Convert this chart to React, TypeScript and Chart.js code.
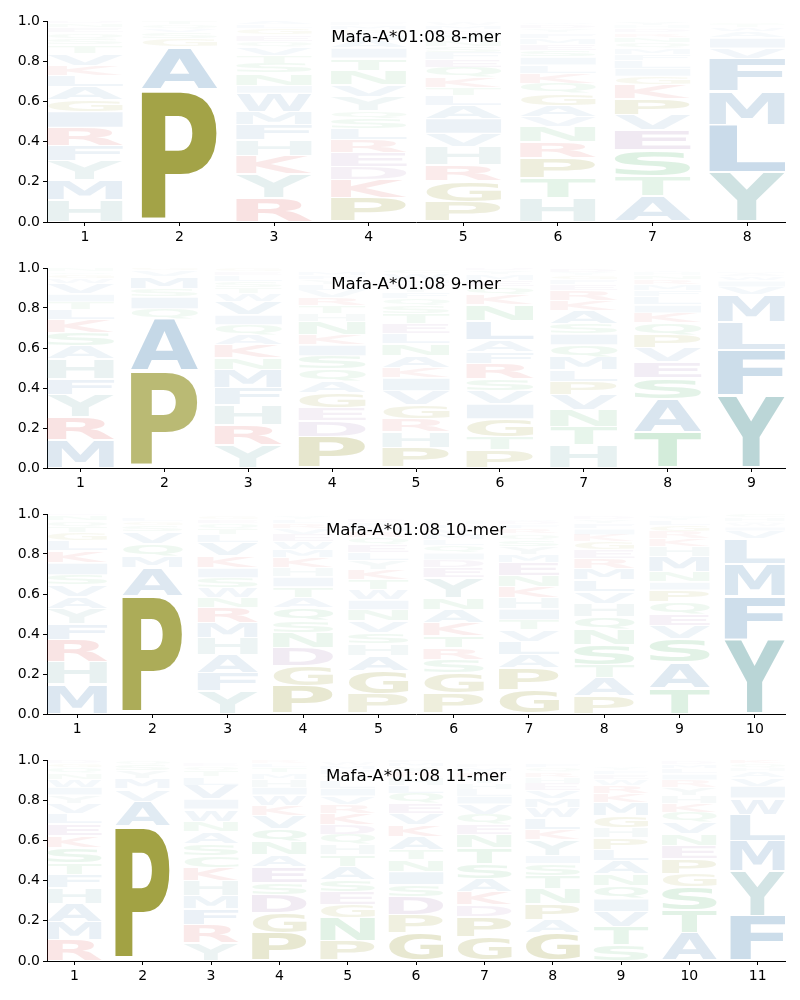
import React, { useEffect, useRef } from "react";
import { Chart, registerables } from "chart.js";

Chart.register(...registerables);

const allele = "Mafa-A*01:08";
const yTickStep = 0.2;

// Letters per position, bottom to top, with their heights (probabilities)
const mer8Letters = [
  "HMYFRIGALKVTSQEND",
  "PAGSVQT",
  "RYKHFMWINSTVQEGLA",
  "PKDERLSQYVNTIAHGMF",
  "PGRHVIALTKQEFSNYDMW",
  "HTPRNVAGQKLISEMFYDW",
  "ATSEVPKGILFMQNRDHY",
  "YLMFVIAWTS",
];
const mer8Heights = [
  [0.11, 0.1, 0.095, 0.075, 0.09, 0.08, 0.06, 0.065, 0.055, 0.05, 0.06, 0.04, 0.03, 0.03, 0.025, 0.02, 0.015],
  [0.66, 0.21, 0.04, 0.03, 0.02, 0.02, 0.02],
  [0.12, 0.12, 0.09, 0.08, 0.075, 0.065, 0.09, 0.04, 0.06, 0.05, 0.04, 0.04, 0.03, 0.03, 0.03, 0.02, 0.02],
  [0.12, 0.09, 0.065, 0.07, 0.065, 0.055, 0.05, 0.04, 0.07, 0.06, 0.07, 0.06, 0.05, 0.04, 0.03, 0.02, 0.02, 0.015],
  [0.1, 0.105, 0.08, 0.09, 0.065, 0.075, 0.065, 0.05, 0.04, 0.05, 0.05, 0.04, 0.035, 0.03, 0.03, 0.03, 0.02, 0.02, 0.015],
  [0.12, 0.1, 0.1, 0.08, 0.075, 0.05, 0.055, 0.06, 0.05, 0.05, 0.04, 0.04, 0.035, 0.03, 0.03, 0.025, 0.02, 0.02, 0.01],
  [0.13, 0.1, 0.13, 0.1, 0.075, 0.08, 0.07, 0.04, 0.04, 0.04, 0.03, 0.03, 0.03, 0.025, 0.02, 0.02, 0.015, 0.02],
  [0.25, 0.235, 0.165, 0.165, 0.05, 0.05, 0.03, 0.02, 0.015, 0.01],
];

const mer9Letters = [
  "MRYFHASKLTIVWGQN",
  "PAQISMVG",
  "YRHFMNKAQIVWTSLEG",
  "PDEGAQSIKNHTRVLYFM",
  "PHRGVIKANLETSQFYDMWC",
  "PTGIVSRFALNKQEMYD",
  "HTNVPLMQISAKREFGYD",
  "TASEVPQKILFMRNHY",
  "YFLMVIWAH",
];
const mer9Heights = [
  [0.14, 0.115, 0.11, 0.08, 0.1, 0.065, 0.065, 0.065, 0.05, 0.04, 0.04, 0.05, 0.025, 0.02, 0.015, 0.015],
  [0.485, 0.26, 0.05, 0.06, 0.04, 0.06, 0.03, 0.015],
  [0.115, 0.1, 0.1, 0.085, 0.09, 0.06, 0.065, 0.05, 0.05, 0.05, 0.065, 0.04, 0.03, 0.03, 0.03, 0.02, 0.015],
  [0.155, 0.08, 0.065, 0.075, 0.06, 0.06, 0.065, 0.055, 0.05, 0.065, 0.04, 0.04, 0.04, 0.035, 0.03, 0.025, 0.02, 0.02],
  [0.1, 0.08, 0.065, 0.07, 0.07, 0.065, 0.05, 0.06, 0.06, 0.05, 0.05, 0.05, 0.04, 0.035, 0.03, 0.025, 0.02, 0.02, 0.03, 0.02],
  [0.09, 0.065, 0.09, 0.075, 0.065, 0.06, 0.075, 0.06, 0.06, 0.095, 0.08, 0.05, 0.04, 0.03, 0.03, 0.02, 0.015],
  [0.115, 0.09, 0.085, 0.075, 0.065, 0.06, 0.065, 0.06, 0.055, 0.05, 0.065, 0.05, 0.05, 0.03, 0.025, 0.02, 0.015, 0.02],
  [0.18, 0.165, 0.105, 0.08, 0.07, 0.065, 0.06, 0.05, 0.04, 0.04, 0.03, 0.03, 0.025, 0.02, 0.015, 0.01],
  [0.365, 0.225, 0.14, 0.135, 0.04, 0.03, 0.02, 0.015, 0.01],
];

const mer10Letters = [
  "MHRFYAVSIKLGTQNE",
  "PAMQVSGL",
  "YFAHMRNWSIKVLTQEG",
  "PGDNSQATIHKMWEVRLY",
  "PGAHSVNIWTKYLEQRMFD",
  "PGSRTKANYEDIQLMVFHW",
  "GPALVTIHKNEMYSQRFDW",
  "PATSNQHVLMREGKIFYD",
  "TASVEQPINMHKRGLYF",
  "YFMLVIWAHC",
];
const mer10Heights = [
  [0.15, 0.11, 0.11, 0.08, 0.075, 0.06, 0.06, 0.05, 0.06, 0.06, 0.05, 0.04, 0.03, 0.03, 0.025, 0.01],
  [0.59, 0.14, 0.06, 0.06, 0.06, 0.03, 0.02, 0.02],
  [0.115, 0.09, 0.09, 0.085, 0.075, 0.075, 0.05, 0.05, 0.05, 0.05, 0.06, 0.065, 0.04, 0.03, 0.025, 0.02, 0.015],
  [0.14, 0.1, 0.09, 0.075, 0.06, 0.065, 0.05, 0.055, 0.05, 0.045, 0.05, 0.04, 0.04, 0.035, 0.03, 0.025, 0.02, 0.015],
  [0.1, 0.115, 0.075, 0.06, 0.055, 0.06, 0.055, 0.05, 0.05, 0.05, 0.05, 0.045, 0.04, 0.04, 0.035, 0.03, 0.025, 0.02, 0.015],
  [0.105, 0.1, 0.065, 0.06, 0.06, 0.065, 0.065, 0.06, 0.1, 0.05, 0.04, 0.035, 0.035, 0.03, 0.03, 0.025, 0.02, 0.015, 0.01],
  [0.12, 0.11, 0.065, 0.065, 0.06, 0.05, 0.055, 0.055, 0.055, 0.055, 0.065, 0.04, 0.04, 0.035, 0.03, 0.025, 0.02, 0.015, 0.01],
  [0.09, 0.09, 0.065, 0.1, 0.075, 0.065, 0.065, 0.06, 0.06, 0.055, 0.05, 0.045, 0.04, 0.035, 0.03, 0.025, 0.02, 0.015],
  [0.13, 0.13, 0.115, 0.065, 0.06, 0.06, 0.06, 0.04, 0.05, 0.075, 0.05, 0.04, 0.035, 0.03, 0.025, 0.015, 0.01],
  [0.375, 0.215, 0.16, 0.125, 0.04, 0.02, 0.015, 0.01, 0.02, 0.02],
];

const mer11Letters = [
  "RMAHFTSKELVYIWNQGD",
  "PAVMYSQ",
  "YRFMHKCSANWIVLTQE",
  "PGDSEANQVKWIHMTLR",
  "PNGESATHQDKRVILYFMW",
  "GPDSINTAKVEQLHRYMF",
  "GPDKASTNEQVILHYRMF",
  "GAPNTSIYKLWMVEHRQF",
  "STVIQNALPHGMKRWEFY",
  "ATSGPENVQKHYRILMD",
  "FYMLWIVAHQK",
];
const mer11Heights = [
  [0.105, 0.09, 0.09, 0.08, 0.065, 0.06, 0.075, 0.06, 0.06, 0.05, 0.05, 0.04, 0.04, 0.04, 0.03, 0.025, 0.02, 0.015],
  [0.67, 0.125, 0.06, 0.05, 0.04, 0.03, 0.02],
  [0.09, 0.09, 0.08, 0.065, 0.075, 0.065, 0.06, 0.06, 0.06, 0.05, 0.06, 0.05, 0.07, 0.04, 0.03, 0.02, 0.015],
  [0.14, 0.1, 0.09, 0.06, 0.08, 0.06, 0.065, 0.065, 0.065, 0.05, 0.05, 0.04, 0.04, 0.03, 0.025, 0.02, 0.015],
  [0.1, 0.115, 0.065, 0.065, 0.06, 0.065, 0.06, 0.05, 0.05, 0.05, 0.055, 0.045, 0.04, 0.04, 0.035, 0.03, 0.025, 0.02, 0.015],
  [0.14, 0.09, 0.09, 0.06, 0.065, 0.06, 0.05, 0.065, 0.06, 0.055, 0.05, 0.05, 0.04, 0.035, 0.03, 0.025, 0.02, 0.015],
  [0.12, 0.1, 0.06, 0.065, 0.065, 0.075, 0.08, 0.065, 0.05, 0.05, 0.05, 0.04, 0.035, 0.03, 0.03, 0.025, 0.02, 0.015],
  [0.14, 0.065, 0.08, 0.075, 0.065, 0.06, 0.04, 0.08, 0.05, 0.06, 0.05, 0.045, 0.04, 0.035, 0.03, 0.025, 0.02, 0.02],
  [0.08, 0.09, 0.075, 0.065, 0.065, 0.06, 0.065, 0.055, 0.06, 0.05, 0.06, 0.065, 0.045, 0.04, 0.03, 0.025, 0.02, 0.015],
  [0.14, 0.115, 0.115, 0.065, 0.075, 0.065, 0.06, 0.055, 0.05, 0.045, 0.04, 0.04, 0.035, 0.03, 0.025, 0.02, 0.015],
  [0.225, 0.225, 0.15, 0.13, 0.08, 0.06, 0.04, 0.03, 0.02, 0.02, 0.02],
];

const panelTitles = [`${allele} 8-mer`, `${allele} 9-mer`, `${allele} 10-mer`, `${allele} 11-mer`];
const panelLetters = [mer8Letters, mer9Letters, mer10Letters, mer11Letters];
const panelHeights = [mer8Heights, mer9Heights, mer10Heights, mer11Heights];

// layout of the four stacked panels (px)
const panelTops = [0, 247, 493, 739];
const panelCanvasHeights = [246, 245, 245, 246];

function letterRGB(ch: string): [number, number, number] {
  if ("PG".includes(ch)) return [128, 128, 0];
  if ("ALFMVIW".includes(ch)) return [70, 130, 180];
  if ("YH".includes(ch)) return [95, 158, 160];
  if ("RK".includes(ch)) return [215, 70, 70];
  if ("STNQC".includes(ch)) return [60, 170, 90];
  if ("DE".includes(ch)) return [140, 90, 160];
  return [120, 120, 120];
}

function letterColor(ch: string, h: number): string {
  const [r, g, b] = letterRGB(ch);
  const a = Math.min(1, 1.05 * Math.pow(Math.max(h, 0), 0.9));
  return `rgba(${r},${g},${b},${a.toFixed(3)})`;
}

const glyphCache: Record<string, { l: number; r: number; a: number; d: number }> = {};

function drawGlyph(ctx: CanvasRenderingContext2D, ch: string, left: number, top: number, w: number, h: number, color: string) {
  ctx.font = 'bold 100px "DejaVu Sans"';
  let m = glyphCache[ch];
  if (!m) {
    const mt = ctx.measureText(ch);
    m = { l: mt.actualBoundingBoxLeft, r: mt.actualBoundingBoxRight, a: mt.actualBoundingBoxAscent, d: mt.actualBoundingBoxDescent };
    glyphCache[ch] = m;
  }
  const gw = m.l + m.r;
  const gh = m.a + m.d;
  if (gw <= 0 || gh <= 0 || w <= 0 || h <= 0) return;
  ctx.save();
  ctx.translate(left, top);
  ctx.scale(w / gw, h / gh);
  ctx.fillStyle = color;
  ctx.textAlign = "left";
  ctx.textBaseline = "alphabetic";
  ctx.fillText(ch, m.l, m.a);
  ctx.restore();
}

const logoPlugin = {
  id: "logoLetters",
  afterDatasetsDraw(chart: any) {
    const ctx: CanvasRenderingContext2D = chart.ctx;
    const area = chart.chartArea;
    ctx.save();
    ctx.beginPath();
    ctx.rect(area.left, area.top, area.right - area.left, area.bottom - area.top);
    ctx.clip();
    chart.data.datasets.forEach((ds: any, i: number) => {
      const meta = chart.getDatasetMeta(i);
      meta.data.forEach((bar: any, j: number) => {
        const item = ds.data[j];
        const p = bar.getProps(["x", "y", "base", "width"], true);
        const top = Math.min(p.y, p.base);
        const bottom = Math.max(p.y, p.base);
        const hpx = bottom - top;
        const pad = 0.5 + 0.015 * hpx;
        drawGlyph(ctx, item.letter, p.x - p.width / 2, top + pad, p.width, hpx - 2 * pad, letterColor(item.letter, item.y));
      });
    });
    ctx.restore();
  },
  afterDraw(chart: any) {
    const ctx: CanvasRenderingContext2D = chart.ctx;
    const area = chart.chartArea;
    const title = chart.options.plugins.logoLetters?.title || "";
    ctx.save();
    ctx.font = '16.7px "DejaVu Sans"';
    ctx.fillStyle = "#000";
    ctx.textAlign = "center";
    ctx.textBaseline = "alphabetic";
    ctx.fillText(title, (area.left + area.right) / 2, area.top + 21);
    ctx.restore();
  },
};

function buildDatasets(letters: string[], heights: number[][]) {
  const maxLen = Math.max(...letters.map((s) => s.length));
  const datasets: any[] = [];
  for (let k = 0; k < maxLen; k++) {
    const data: any[] = [];
    letters.forEach((col, c) => {
      if (k < col.length) data.push({ x: c + 1, y: heights[c][k], letter: col[k] });
    });
    datasets.push({
      label: `level ${k + 1}`,
      data,
      backgroundColor: "rgba(0,0,0,0)",
      borderWidth: 0,
      categoryPercentage: 0.8,
      barPercentage: 1.0,
    });
  }
  return datasets;
}

function makeConfig(idx: number): any {
  const letters = panelLetters[idx];
  const n = letters.length;
  const tickFont = { family: "DejaVu Sans", size: 14 };
  return {
    type: "bar",
    data: { datasets: buildDatasets(letters, panelHeights[idx]) },
    plugins: [logoPlugin],
    options: {
      responsive: false,
      maintainAspectRatio: false,
      animation: false,
      events: [],
      layout: { padding: { top: 21, right: 15, left: 0, bottom: 0 } },
      plugins: {
        legend: { display: false },
        tooltip: { enabled: false },
        title: { display: false },
        logoLetters: { title: panelTitles[idx] },
      },
      scales: {
        x: {
          type: "linear",
          min: 0.6,
          max: n + 0.4,
          stacked: true,
          offset: false,
          grid: { display: true, offset: false, drawOnChartArea: false, drawTicks: true, tickLength: 4, color: "#000", tickWidth: 1 },
          border: { display: true, color: "#000", width: 1 },
          ticks: {
            stepSize: 1,
            includeBounds: false,
            autoSkip: false,
            maxRotation: 0,
            color: "#000",
            font: tickFont,
            padding: 3,
            callback: (v: number) => String(Math.round(v)),
          },
          afterFit: (s: any) => {
            s.height = 24;
          },
        },
        y: {
          type: "linear",
          min: 0,
          max: 1,
          stacked: true,
          grid: { display: true, drawOnChartArea: false, drawTicks: true, tickLength: 4, color: "#000", tickWidth: 1 },
          border: { display: true, color: "#000", width: 1 },
          ticks: {
            stepSize: yTickStep,
            color: "#000",
            font: tickFont,
            padding: 3,
            callback: (v: number) => Number(v).toFixed(1),
          },
          afterFit: (s: any) => {
            s.width = 47;
          },
        },
      },
    },
  };
}

export default function App() {
  const refs = [useRef<HTMLCanvasElement>(null), useRef<HTMLCanvasElement>(null), useRef<HTMLCanvasElement>(null), useRef<HTMLCanvasElement>(null)];

  useEffect(() => {
    const charts: Chart[] = [];
    refs.forEach((r, i) => {
      if (r.current) charts.push(new Chart(r.current, makeConfig(i)));
    });
    return () => charts.forEach((c) => c.destroy());
  }, []);

  return (
    <div style={{ position: "absolute", left: 0, top: 0, width: 800, height: 1000, background: "#fff" }}>
      {refs.map((r, i) => (
        <canvas
          key={i}
          ref={r}
          width={800}
          height={panelCanvasHeights[i]}
          style={{ position: "absolute", left: 0, top: panelTops[i], width: 800, height: panelCanvasHeights[i] }}
        />
      ))}
    </div>
  );
}
